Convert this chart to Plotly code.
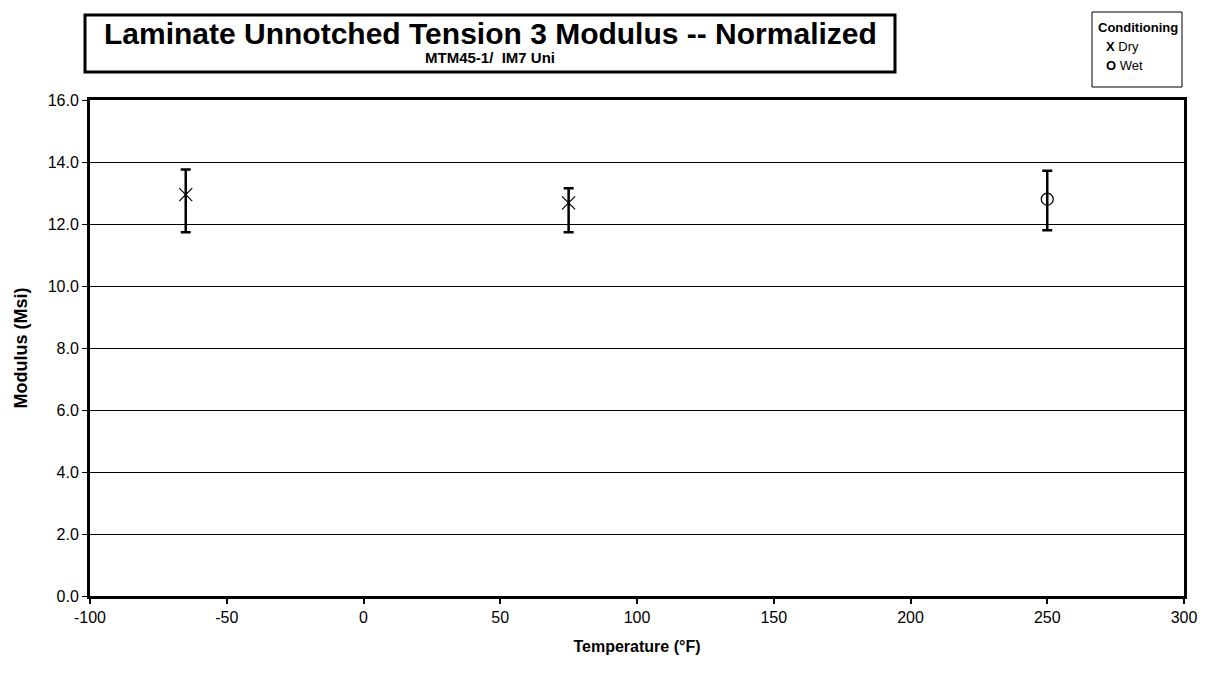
import plotly.graph_objects as go

# Data
dry_temp = [-65, 75]
dry_mod = [12.95, 12.68]
dry_hi = [13.76, 13.15]
dry_lo = [11.73, 11.73]

wet_temp = [250]
wet_mod = [12.80]
wet_hi = [13.72]
wet_lo = [11.80]

x_ticks = [-100, -50, 0, 50, 100, 150, 200, 250, 300]
x_tick_text = ["-100", "-50", "0", "50", "100", "150", "200", "250", "300"]

title = "Laminate Unnotched Tension 3 Modulus -- Normalized"
subtitle = "MTM45-1/  IM7 Uni"

W, H = 1212, 674
L, R, T, B = 90, 28, 100, 78
pw = W - L - R
ph = H - T - B


def px(x):
    return (x - L) / pw


def py(y):
    return (H - B - y) / ph


fig = go.Figure()


def add_series(xs, ys, hi, lo, symbol, size):
    fig.add_trace(go.Scatter(
        x=xs, y=ys, mode="markers",
        marker=dict(symbol=symbol, size=size, color="black",
                    line=dict(color="black", width=1.2)),
        error_y=dict(type="data", symmetric=False,
                     array=[h - v for h, v in zip(hi, ys)],
                     arrayminus=[v - l for v, l in zip(ys, lo)],
                     color="black", thickness=2.5, width=5),
        showlegend=False, cliponaxis=False,
    ))


add_series(dry_temp, dry_mod, dry_hi, dry_lo, "x-thin-open", 13)
add_series(wet_temp, wet_mod, wet_hi, wet_lo, "circle-open", 12)

fig.update_layout(
    width=W, height=H,
    margin=dict(l=L, r=R, t=T, b=B),
    paper_bgcolor="white", plot_bgcolor="white",
    font=dict(family="Arial, Liberation Sans, sans-serif", color="black", size=16),
    xaxis=dict(range=[-100, 300], tickvals=x_ticks, ticktext=x_tick_text,
               showgrid=False, zeroline=False,
               showline=True, linewidth=3, linecolor="black", mirror=True,
               ticks="outside", ticklen=5, tickwidth=2, tickcolor="black",
               tickfont=dict(size=16),
               title=dict(text="<b>Temperature (°F)</b>", font=dict(size=16), standoff=16)),
    yaxis=dict(range=[0, 16], dtick=2, tickformat=".1f",
               showgrid=True, gridcolor="black", gridwidth=1, zeroline=False,
               showline=True, linewidth=3, linecolor="black", mirror=True,
               ticks="outside", ticklen=5, tickwidth=1, tickcolor="black",
               tickfont=dict(size=16),
               title=dict(text="<b>Modulus (Msi)</b>", font=dict(size=18), standoff=16)),
    shapes=[
        dict(type="rect", xref="paper", yref="paper",
             x0=px(85), x1=px(895), y0=py(72), y1=py(15),
             line=dict(color="black", width=3), fillcolor="white"),
        dict(type="rect", xref="paper", yref="paper",
             x0=px(1092), x1=px(1182), y0=py(87), y1=py(12),
             line=dict(color="black", width=1), fillcolor="white"),
    ],
    annotations=[
        dict(text="<b>" + title + "</b>", xref="paper", yref="paper",
             x=px(490), y=py(33), xanchor="center", yanchor="middle",
             showarrow=False, font=dict(size=30)),
        dict(text="<b>" + subtitle + "</b>", xref="paper", yref="paper",
             x=px(490), y=py(57), xanchor="center", yanchor="middle",
             showarrow=False, font=dict(size=15)),
        dict(text="<b>Conditioning</b>", xref="paper", yref="paper",
             x=px(1096), y=py(28), xanchor="left", yanchor="middle",
             showarrow=False, font=dict(size=13)),
        dict(text="<b>X</b> Dry", xref="paper", yref="paper",
             x=px(1104), y=py(47), xanchor="left", yanchor="middle",
             showarrow=False, font=dict(size=13)),
        dict(text="<b>O</b> Wet", xref="paper", yref="paper",
             x=px(1104), y=py(65), xanchor="left", yanchor="middle",
             showarrow=False, font=dict(size=13)),
    ],
)

fig.write_html("out.html")
